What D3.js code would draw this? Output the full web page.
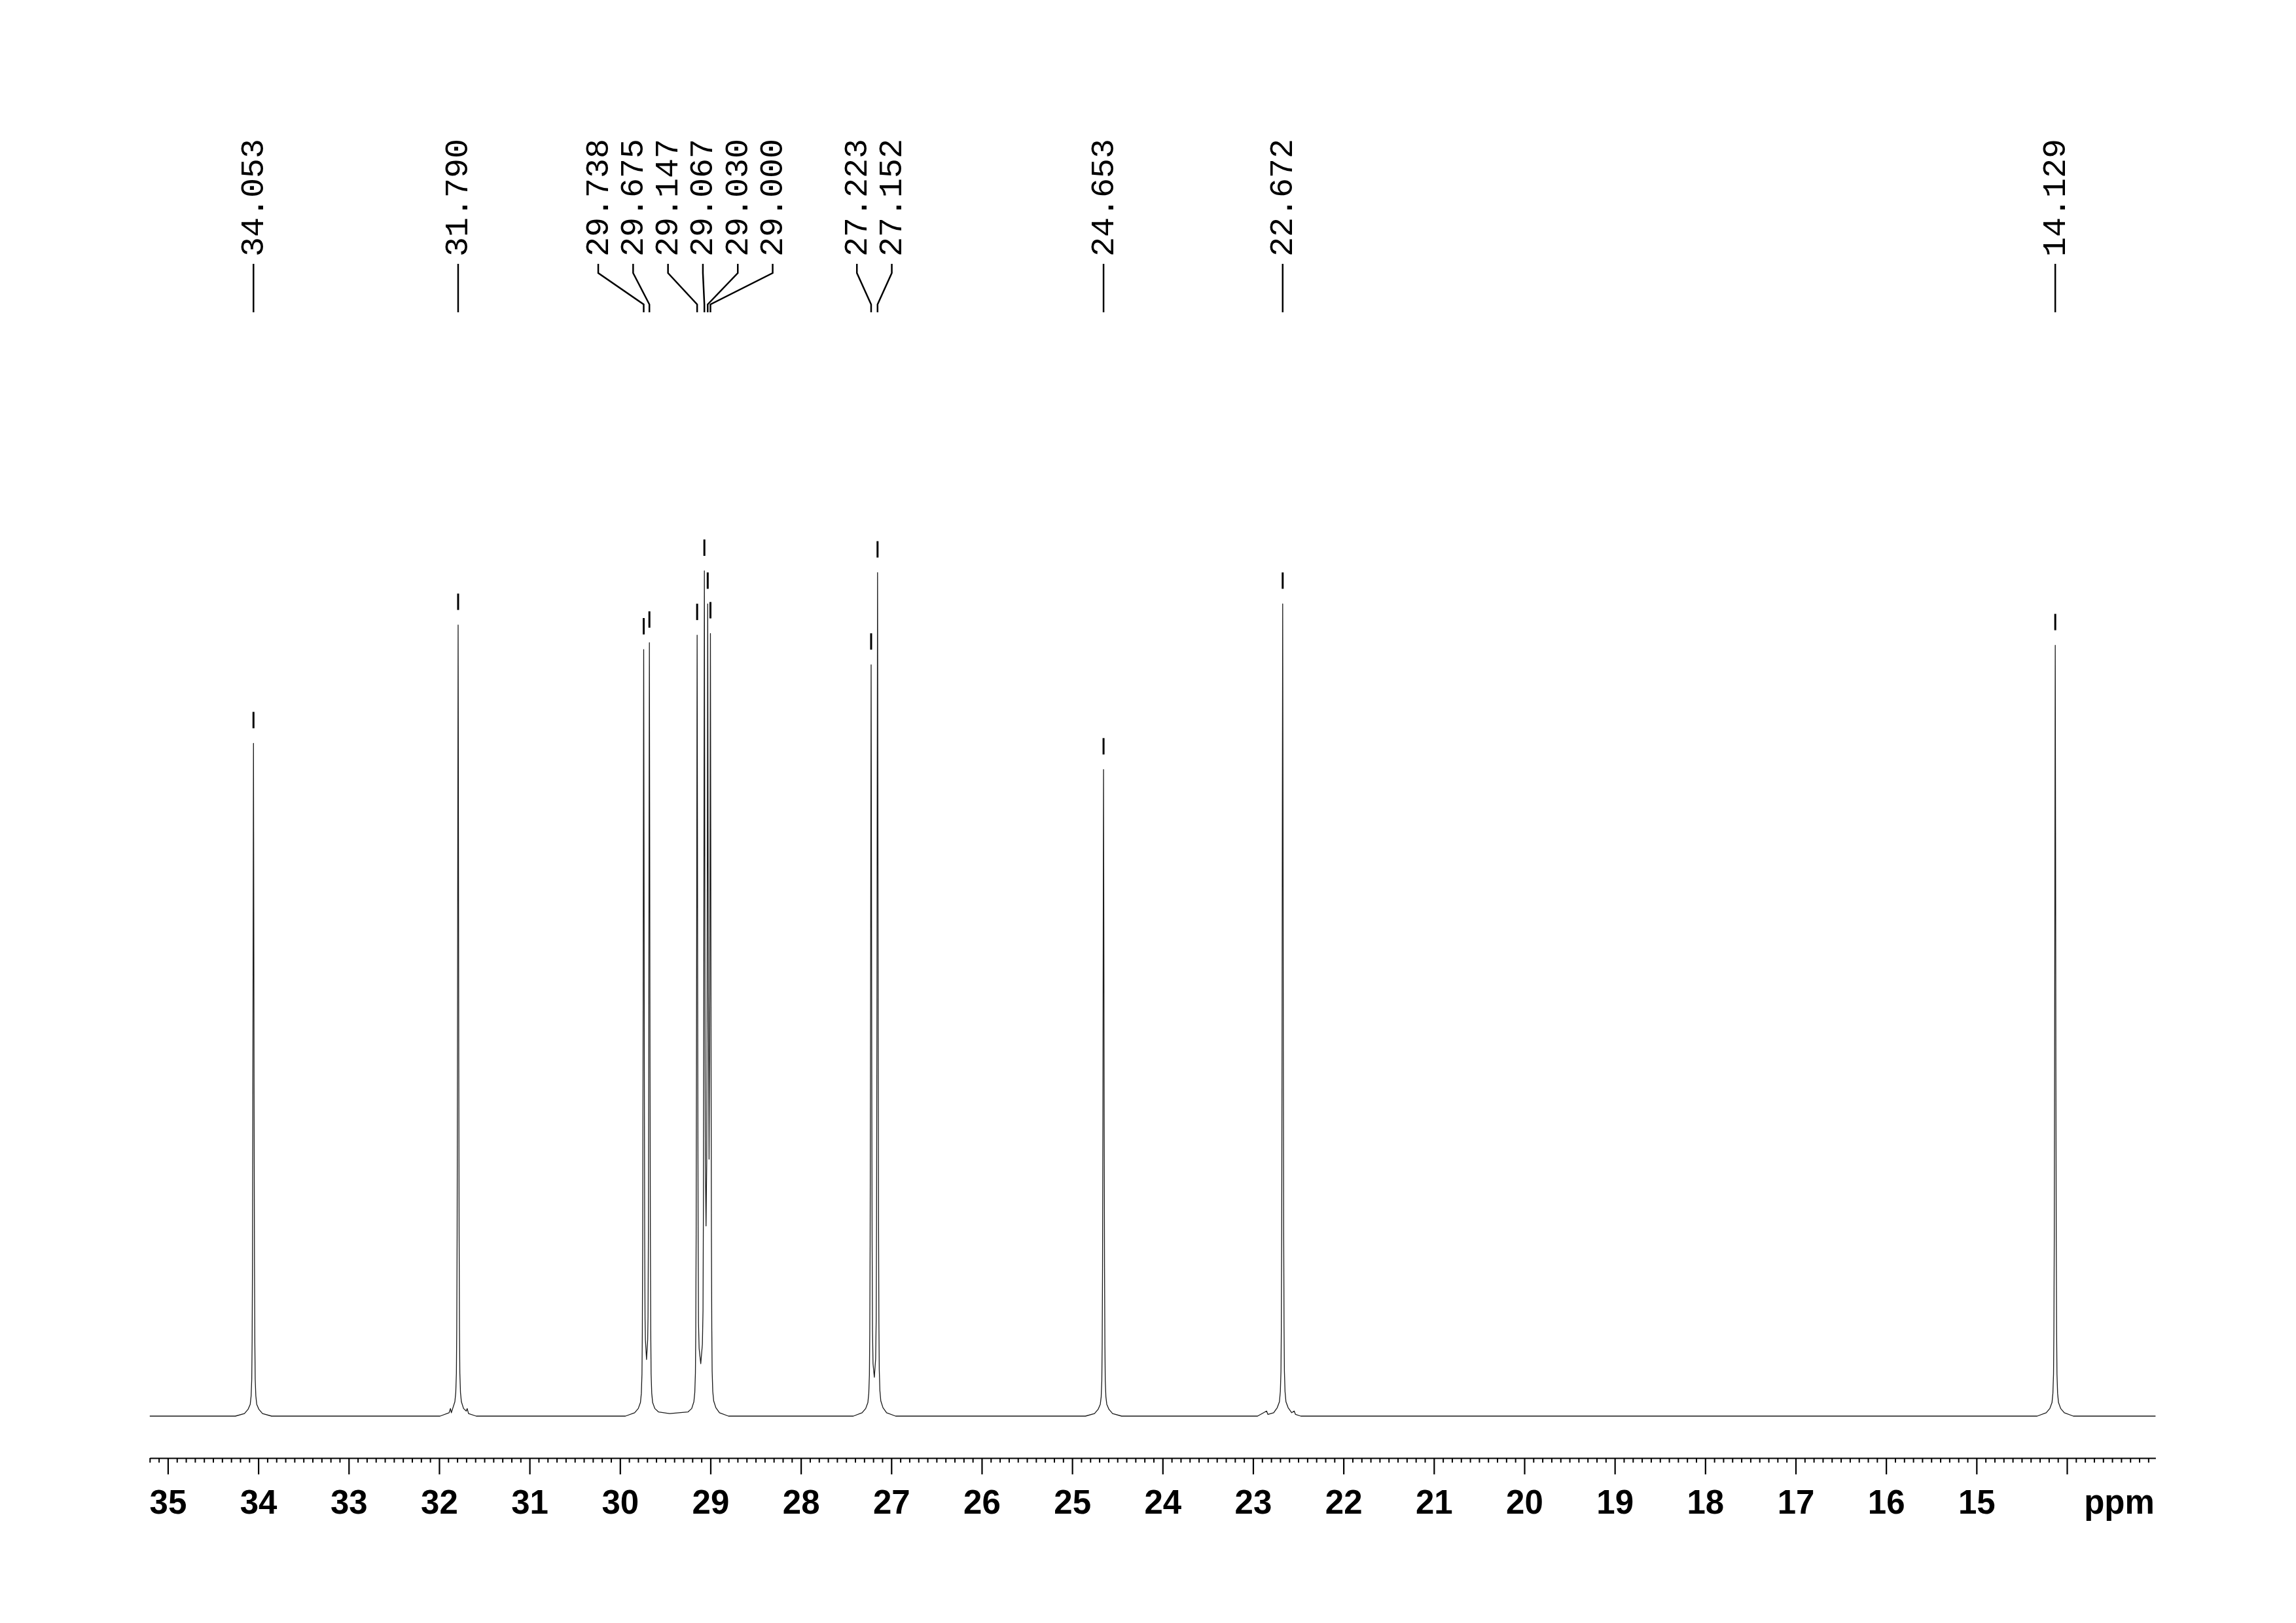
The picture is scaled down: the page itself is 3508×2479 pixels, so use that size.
<!DOCTYPE html>
<html>
<head>
<meta charset="utf-8">
<script src="https://cdn.jsdelivr.net/npm/d3@7/dist/d3.min.js"></script>
<style>
  html, body { margin: 0; padding: 0; background: #fff; }
  svg { display: block; }
</style>
</head>
<body>
<svg id="chart" width="3508" height="2479"></svg>
<script>
// ---------------- DATA ----------------
// picked peaks (ppm) and their apex intensities (% of tallest peak)
const peakPpm    = [34.053, 31.790, 29.738, 29.675, 29.147, 29.067, 29.030, 29.000, 27.223, 27.152, 24.653, 22.672, 14.129];
const peakHeight = [79.6,   93.6,   90.7,   91.5,   92.4,   100.0,  96.1,   92.6,   88.9,   99.8,   76.5,   96.1,   91.2];

// axis ticks (ppm)
const majorTicks = [35, 34, 33, 32, 31, 30, 29, 28, 27, 26, 25, 24, 23, 22, 21, 20, 19, 18, 17, 16, 15, 14];
const majorTickLabels = ["35","34","33","32","31","30","29","28","27","26","25","24","23","22","21","20","19","18","17","16","15",""];
const axisUnit = "ppm";

// spectrum trace: [ppm, intensity %]
const spectrum = [
  [35.20, 0],
  [34.253, 0], [34.153, 0.3], [34.113, 0.8], [34.089, 1.4], [34.079, 2.4], [34.072, 4.4], [34.068, 8.8],
  [34.064, 18.3], [34.0602, 35.8], [34.0566, 59.7], [34.053, 79.6], [34.0494, 59.7], [34.0458, 35.8],
  [34.042, 18.3], [34.038, 8.8], [34.034, 4.4], [34.027, 2.4], [34.017, 1.4], [33.993, 0.8], [33.953, 0.3], [33.853, 0],

  [31.99, 0], [31.89, 0.4], [31.875, 0.9], [31.865, 0.4], [31.85, 0.9], [31.826, 1.7], [31.816, 2.8], [31.809, 5.1],
  [31.805, 10.3], [31.801, 21.5], [31.7972, 42.1], [31.7936, 70.2], [31.790, 93.6], [31.7864, 70.2], [31.7828, 42.1],
  [31.779, 21.5], [31.775, 10.3], [31.771, 5.1], [31.764, 2.8], [31.754, 1.7], [31.730, 0.9], [31.700, 0.6],
  [31.690, 0.9], [31.675, 0.3], [31.59, 0],

  [29.94, 0], [29.838, 0.4], [29.798, 0.9], [29.774, 1.6], [29.764, 2.7], [29.757, 5.0], [29.753, 10.0], [29.749, 20.9],
  [29.7452, 40.8], [29.7416, 68.0], [29.738, 90.7], [29.7344, 68.0], [29.7308, 41.0], [29.727, 21.0], [29.723, 11.5],
  [29.719, 9.0], [29.7065, 6.7], [29.694, 9.0], [29.690, 11.8], [29.686, 21.5], [29.6822, 41.5], [29.6786, 68.6],
  [29.675, 91.5], [29.6714, 68.6], [29.6678, 41.2], [29.664, 21.0], [29.660, 10.1], [29.656, 5.0], [29.649, 2.7],
  [29.639, 1.6], [29.615, 0.9], [29.575, 0.5], [29.45, 0.3], [29.35, 0.4],

  [29.247, 0.5], [29.207, 0.9], [29.183, 1.7], [29.173, 2.8], [29.166, 5.1], [29.162, 10.2], [29.158, 21.3],
  [29.1542, 41.6], [29.1506, 69.3], [29.147, 92.4], [29.1434, 69.3], [29.1398, 41.6], [29.136, 21.3], [29.132, 11.0],
  [29.125, 8.0], [29.107, 6.2], [29.089, 8.5], [29.082, 12.5], [29.078, 24.0], [29.0742, 46.0], [29.0706, 75.5],
  [29.067, 100.0], [29.0634, 76.0], [29.0598, 48.0], [29.056, 30.0], [29.0485, 22.5], [29.041, 30.0], [29.0372, 46.0],
  [29.0336, 72.5], [29.030, 96.1], [29.0264, 74.0], [29.0228, 50.0], [29.015, 30.4], [29.0072, 50.0], [29.0036, 70.5],
  [29.000, 92.6], [28.9964, 69.5], [28.9928, 41.7], [28.989, 21.5], [28.985, 10.4], [28.981, 5.3], [28.974, 2.9],
  [28.964, 1.8], [28.940, 1.0], [28.900, 0.4], [28.80, 0],

  [27.42, 0], [27.323, 0.4], [27.283, 0.9], [27.259, 1.6], [27.249, 2.7], [27.242, 4.9], [27.238, 9.8], [27.234, 20.4],
  [27.2302, 40.0], [27.2266, 66.7], [27.223, 88.9], [27.2194, 66.7], [27.2158, 40.0], [27.212, 20.5], [27.208, 10.2],
  [27.202, 6.2], [27.1875, 4.6], [27.173, 6.8], [27.167, 11.5], [27.163, 23.0], [27.1592, 45.0], [27.1556, 74.9],
  [27.152, 99.8], [27.1484, 74.9], [27.1448, 44.9], [27.141, 23.0], [27.137, 11.0], [27.133, 5.5], [27.126, 3.0],
  [27.116, 1.8], [27.092, 1.0], [27.052, 0.4], [26.952, 0],

  [24.853, 0], [24.753, 0.3], [24.713, 0.8], [24.689, 1.4], [24.679, 2.3], [24.672, 4.2], [24.668, 8.4], [24.664, 17.6],
  [24.6602, 34.4], [24.6566, 57.4], [24.653, 76.5], [24.6494, 57.4], [24.6458, 34.4], [24.642, 17.6], [24.638, 8.4],
  [24.634, 4.2], [24.627, 2.3], [24.617, 1.4], [24.593, 0.8], [24.553, 0.3], [24.453, 0],

  [22.95, 0], [22.85, 0.6], [22.835, 0.2], [22.772, 0.4], [22.732, 1.0], [22.708, 1.7], [22.698, 2.9], [22.691, 5.3],
  [22.687, 10.6], [22.683, 22.1], [22.6792, 43.2], [22.6756, 72.1], [22.672, 96.1], [22.6684, 72.1], [22.6648, 43.2],
  [22.661, 22.1], [22.657, 10.6], [22.653, 5.3], [22.646, 2.9], [22.636, 1.7], [22.612, 1.0], [22.572, 0.4],
  [22.545, 0.6], [22.53, 0.2], [22.472, 0],

  [14.329, 0], [14.229, 0.4], [14.189, 0.9], [14.165, 1.6], [14.155, 2.7], [14.148, 5.0], [14.144, 10.0], [14.140, 21.0],
  [14.1362, 41.0], [14.1326, 68.4], [14.129, 91.2], [14.1254, 68.4], [14.1218, 41.0], [14.118, 21.0], [14.114, 10.0],
  [14.110, 5.0], [14.103, 2.7], [14.093, 1.6], [14.069, 0.9], [14.029, 0.4], [13.929, 0],
  [13.02, 0]
];

// ---------------- LAYOUT ----------------
const svg = d3.select("#chart");
const X0 = 228.8, X1 = 3293.4;
const x = d3.scaleLinear().domain([35.2, 13.02]).range([X0, X1]);
const y = d3.scaleLinear().domain([0, 100]).range([2163, 872]);

svg.append("rect").attr("width", 3508).attr("height", 2479).attr("fill", "#fff");

// spectrum
const line = d3.line().x(d => x(d[0])).y(d => y(d[1]));
svg.append("path")
  .datum(spectrum)
  .attr("d", line)
  .attr("fill", "none")
  .attr("stroke", "#1a1a1a")
  .attr("stroke-width", 1.3)
  .attr("stroke-linejoin", "round");

// peak apex markers
const peaks = peakPpm.map((p, i) => ({ppm: p, h: peakHeight[i]}));
svg.append("g").selectAll("line")
  .data(peaks).join("line")
  .attr("x1", d => x(d.ppm)).attr("x2", d => x(d.ppm))
  .attr("y1", d => y(d.h) - 48).attr("y2", d => y(d.h) - 23)
  .attr("stroke", "#000").attr("stroke-width", 3);

// peak labels with leader lines: merge neighbouring label groups until none overlap
const labelSpacing = 53.3;
const px = peaks.map(d => x(d.ppm));
let groups = peaks.map((d, i) => [i]);
function place(g) {
  const mean = d3.mean(g, i => px[i]);
  return g.map((i, k) => mean + (k - (g.length - 1) / 2) * labelSpacing);
}
let merged = true;
while (merged) {
  merged = false;
  for (let j = 0; j < groups.length - 1; j++) {
    const a = place(groups[j]), b = place(groups[j + 1]);
    if (a[a.length - 1] + labelSpacing > b[0] + 0.01) {
      groups.splice(j, 2, groups[j].concat(groups[j + 1]));
      merged = true;
      break;
    }
  }
}
const labelX = new Array(peaks.length);
groups.forEach(g => { const pos = place(g); g.forEach((i, k) => { labelX[i] = pos[k]; }); });

const yTextStart = 392, yL0 = 403, yL1 = 417, yL2 = 465, yL3 = 477;
const fsLabel = 50;
const lg = svg.append("g");
peaks.forEach((d, i) => {
  const lx = labelX[i], pxx = px[i];
  lg.append("path")
    .attr("d", `M${lx},${yL0} L${lx},${yL1} L${pxx},${yL2} L${pxx},${yL3}`)
    .attr("fill", "none").attr("stroke", "#000").attr("stroke-width", 2.5);
  lg.append("text")
    .attr("transform", `translate(${lx + 0.29 * fsLabel},${yTextStart}) rotate(-90)`)
    .attr("font-family", "'Liberation Mono', 'DejaVu Sans Mono', monospace")
    .attr("font-size", fsLabel)
    .attr("fill", "#000")
    .text(d.ppm.toFixed(3));
});

// x axis
const axisY = 2227;
const minorTicks = d3.range(352, 130, -1).map(v => v / 10).filter(v => v <= 35.2 && v >= 13.02 && !majorTicks.includes(v));
const gMinor = svg.append("g").attr("transform", `translate(0,${axisY})`)
  .call(d3.axisBottom(x).tickValues(minorTicks).tickSize(7).tickSizeOuter(0).tickFormat(""));
gMinor.select(".domain").remove();
gMinor.selectAll("line").attr("stroke", "#000").attr("stroke-width", 2);

const gMajor = svg.append("g").attr("transform", `translate(0,${axisY})`)
  .call(d3.axisBottom(x).tickValues(majorTicks).tickSize(25).tickSizeOuter(0)
    .tickFormat((d, i) => majorTickLabels[i]));
gMajor.select(".domain").attr("stroke", "#000").attr("stroke-width", 2.2);
gMajor.selectAll(".tick line").attr("stroke", "#000").attr("stroke-width", 2.2);
gMajor.selectAll(".tick text")
  .attr("y", 0).attr("dy", 0)
  .attr("transform", "translate(0,85)")
  .attr("font-family", "'Liberation Sans', Arial, sans-serif")
  .attr("font-weight", "bold")
  .attr("font-size", 51)
  .attr("fill", "#000");

svg.append("text")
  .attr("x", 3238).attr("y", 2312)
  .attr("text-anchor", "middle")
  .attr("font-family", "'Liberation Sans', Arial, sans-serif")
  .attr("font-weight", "bold")
  .attr("font-size", 51)
  .attr("fill", "#000")
  .text(axisUnit);
</script>
</body>
</html>
